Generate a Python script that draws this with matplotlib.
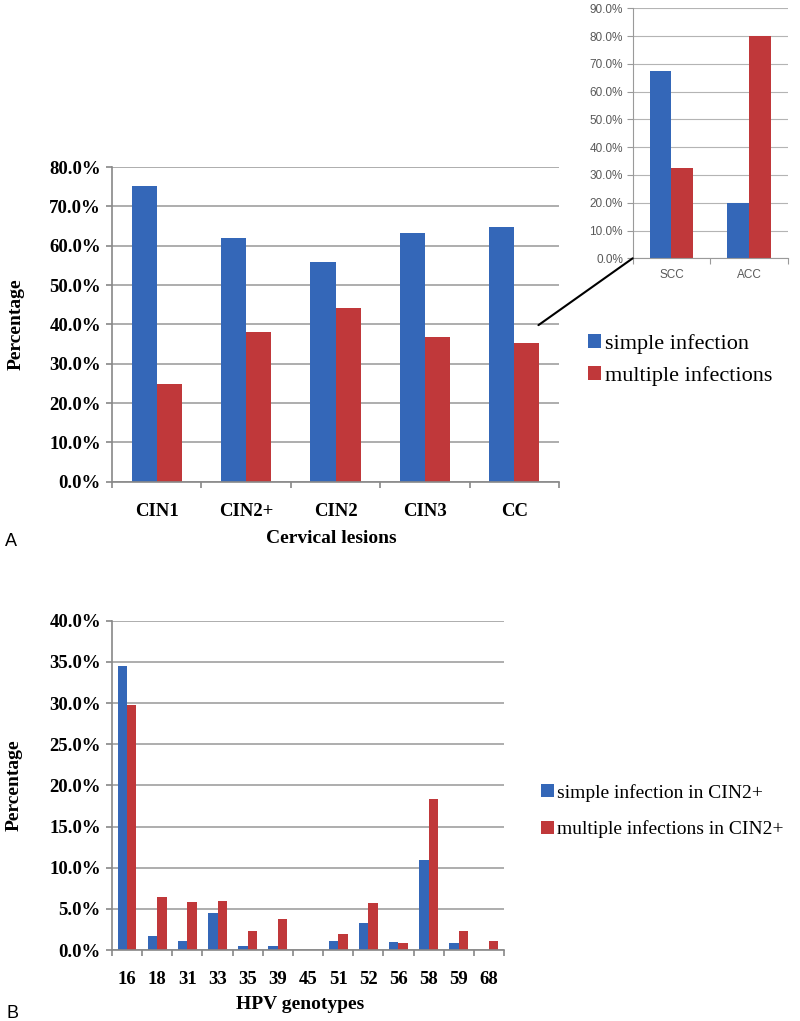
import numpy as np
import matplotlib
matplotlib.use("Agg")
import matplotlib.pyplot as plt
from matplotlib.patches import Patch, ConnectionPatch

# Panel A data
lesions = ["CIN1", "CIN2+", "CIN2", "CIN3", "CC"]
simple_a = [75.1, 62.0, 55.8, 63.2, 64.7]
multiple_a = [24.9, 38.0, 44.2, 36.8, 35.3]

# Inset: cervical cancer subtypes
cc_types = ["SCC", "ACC"]
simple_cc = [67.6, 20.0]
multiple_cc = [32.4, 80.0]

# Panel B data
genotypes = ["16", "18", "31", "33", "35", "39", "45", "51", "52", "56", "58", "59", "68"]
simple_b = [34.5, 1.7, 1.1, 4.5, 0.5, 0.5, 0.0, 1.1, 3.3, 1.0, 10.9, 0.8, 0.0]
multiple_b = [29.8, 6.4, 5.8, 6.0, 2.3, 3.8, 0.0, 2.0, 5.7, 0.8, 18.3, 2.3, 1.1]

BLUE = "#3467b8"
RED = "#c0383a"
GRID = "#a0a0a0"
SERIF = "Liberation Serif"

W, H = 800, 1021
fig = plt.figure(figsize=(W / 100, H / 100), dpi=100)


def px_axes(left, top, right, bottom):
    # axes rectangle given in pixel coords (origin top-left)
    return fig.add_axes([left / W, 1 - bottom / H, (right - left) / W, (bottom - top) / H])


def style_axes(ax, n, ymax, ystep, fs, fam, weight, xpad, ypad, gridc, lw, tickc="#888888"):
    ax.set_xlim(-0.5, n - 0.5)
    ax.set_ylim(0, ymax)
    ax.set_yticks(np.arange(0, ymax + 0.01, ystep))
    ax.yaxis.set_major_formatter(lambda v, p: "%.1f%%" % v)
    ax.grid(axis="y", color=gridc, linewidth=lw)
    ax.set_axisbelow(True)
    for s in ["top", "right"]:
        ax.spines[s].set_visible(False)
    for s in ["left", "bottom"]:
        ax.spines[s].set_color(tickc)
        ax.spines[s].set_linewidth(lw)
    # category boundaries as minor ticks, labels on major ticks
    ax.set_xticks(np.arange(n))
    ax.set_xticks(np.arange(-0.5, n, 1.0), minor=True)
    ax.tick_params(axis="x", which="major", length=0, pad=xpad)
    ax.tick_params(axis="x", which="minor", length=4, width=lw, color=tickc)
    ax.tick_params(axis="y", length=4, width=lw, color=tickc, pad=ypad)
    for lab in ax.get_xticklabels() + ax.get_yticklabels():
        lab.set_fontsize(fs)
        lab.set_family(fam)
        lab.set_fontweight(weight)


# ---- Panel A main chart
axA = px_axes(112, 167, 559, 481.7)
x = np.arange(len(lesions))
wA = 0.28
axA.bar(x - wA / 2, simple_a, wA, color=BLUE, label="simple infection")
axA.bar(x + wA / 2, multiple_a, wA, color=RED, label="multiple infections")
axA.set_xticks(x, lesions)
style_axes(axA, len(lesions), 80, 10, 13.5, SERIF, "bold", 15, 4, GRID, 1.2)
axA.set_ylabel("Percentage", fontsize=14, fontweight="bold", family=SERIF, va="center")
axA.yaxis.set_label_coords(-0.215, 0.5)
axA.set_xlabel("Cervical lesions", fontsize=14, fontweight="bold", family=SERIF, va="center")
axA.xaxis.set_label_coords(0.49, -0.182)

# ---- Inset for CC subtypes
axI = px_axes(632.7, 8.3, 787.7, 258.3)
xi = np.arange(len(cc_types))
axI.bar(xi - wA / 2, simple_cc, wA, color=BLUE)
axI.bar(xi + wA / 2, multiple_cc, wA, color=RED)
axI.set_xticks(xi, cc_types)
style_axes(axI, len(cc_types), 90, 10, 8.5, "Liberation Sans", "normal", 8, 3, "#b4b4b4", 0.8, tickc="#9a9a9a")
for lab in axI.get_xticklabels() + axI.get_yticklabels():
    lab.set_color("#595959")

# connector line from the CC bars to the inset origin
con = ConnectionPatch(xyA=(4.27, 39.8), coordsA=axA.transData,
                      xyB=(0, 0), coordsB=axI.transAxes,
                      color="black", linewidth=1.5)
fig.add_artist(con)

handles = [Patch(facecolor=BLUE), Patch(facecolor=RED)]
fig.legend(handles, ["simple infection", "multiple infections"],
           loc="center left", bbox_to_anchor=(588 / W, 1 - 360 / H),
           frameon=False, prop={"family": SERIF, "size": 16},
           handlelength=0.6, handleheight=0.6, handletextpad=0.15,
           labelspacing=0.55, borderaxespad=0, borderpad=0)

fig.text(5 / W, 1 - 541 / H, "A", fontsize=13, family="Liberation Sans", va="center")

# ---- Panel B
axB = px_axes(112, 620.7, 504, 950)
xb = np.arange(len(genotypes))
wB = 0.31
axB.bar(xb - wB / 2, simple_b, wB, color=BLUE)
axB.bar(xb + wB / 2, multiple_b, wB, color=RED)
axB.set_xticks(xb, genotypes)
style_axes(axB, len(genotypes), 40, 5, 13.5, SERIF, "bold", 15, 4, GRID, 1.2)
axB.set_ylabel("Percentage", fontsize=14, fontweight="bold", family=SERIF, va="center")
axB.yaxis.set_label_coords(-0.25, 0.5)
axB.set_xlabel("HPV genotypes", fontsize=14, fontweight="bold", family=SERIF, va="center")
axB.xaxis.set_label_coords(0.48, -0.167)

fig.legend(handles, ["simple infection in CIN2+", "multiple infections in CIN2+"],
           loc="center left", bbox_to_anchor=(541 / W, 1 - 811 / H),
           frameon=False, prop={"family": SERIF, "size": 14},
           handlelength=0.65, handleheight=0.65, handletextpad=0.15,
           labelspacing=0.95, borderaxespad=0, borderpad=0)

fig.text(7 / W, 1 - 1013 / H, "B", fontsize=13, family="Liberation Sans", va="center")

fig.savefig("out.png", dpi=100)
